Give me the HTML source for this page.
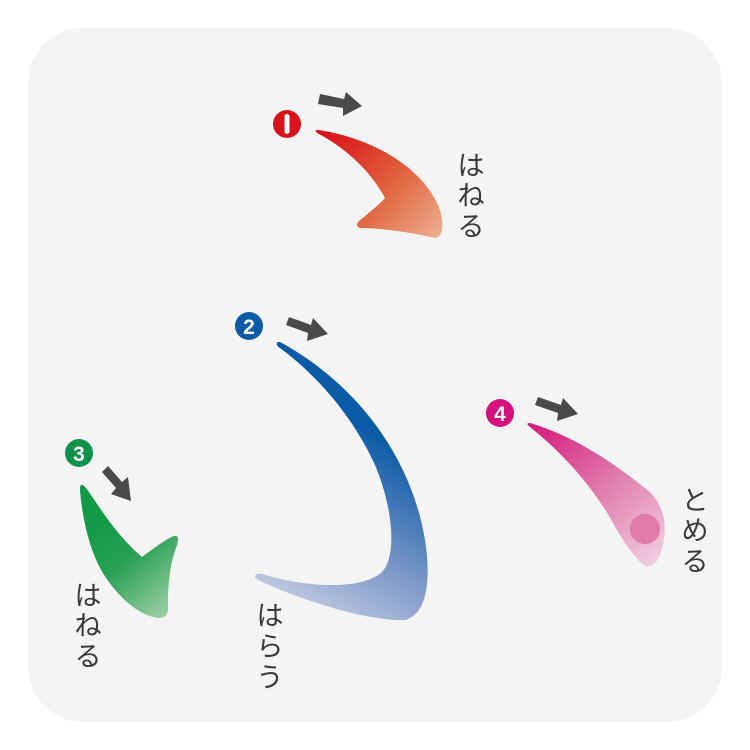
<!DOCTYPE html>
<html><head><meta charset="utf-8"><style>
html,body{margin:0;padding:0;background:#fff;width:750px;height:750px;overflow:hidden}
.t{font-family:"Liberation Sans","Noto Sans CJK JP",sans-serif;font-size:27px;fill:#3a3a3a}
.n{font-family:"Liberation Sans",sans-serif;font-weight:bold;font-size:21px;fill:#fff}
</style></head><body>
<svg width="750" height="750" viewBox="0 0 750 750" xmlns="http://www.w3.org/2000/svg">
<defs>
<linearGradient id="gr" x1="330" y1="130" x2="445" y2="240" gradientUnits="userSpaceOnUse"><stop offset="0" stop-color="#d8121b"/><stop offset="0.5" stop-color="#e0603a"/><stop offset="1" stop-color="#eeb597"/></linearGradient>
<linearGradient id="gb" x1="370" y1="430" x2="270" y2="610" gradientUnits="userSpaceOnUse"><stop offset="0" stop-color="#0a5aa6"/><stop offset="0.55" stop-color="#7e99c8"/><stop offset="1" stop-color="#cdd5e7"/></linearGradient>
<linearGradient id="gg" x1="100" y1="520" x2="175" y2="610" gradientUnits="userSpaceOnUse"><stop offset="0" stop-color="#129a48"/><stop offset="0.4" stop-color="#27a052"/><stop offset="1" stop-color="#9fcfa6"/></linearGradient>
<linearGradient id="gp" x1="540" y1="425" x2="660" y2="565" gradientUnits="userSpaceOnUse"><stop offset="0" stop-color="#d61e7d"/><stop offset="0.5" stop-color="#e07fae"/><stop offset="1" stop-color="#f2d1e2"/></linearGradient>
</defs>
<rect x="28" y="28" width="694" height="694" rx="55" fill="#f4f4f4"/>

<!-- red -->
<path d="M319,130 C370,138 420,165 438,205 C446,225 442,238 435,238 C410,232 380,228 360,228 C354,226 358,221 363,218 C372,210 380,204 385,198 C370,170 345,148 319,134 C314,131 315,130 319,130Z" fill="url(#gr)"/>
<circle cx="287" cy="124" r="14" fill="#d9121b"/><rect x="284.5" y="114" width="5" height="20" rx="2.5" fill="#fff"/>
<path d="M320,94 L344,99 L346,92 L362,106 L343,116 L343,108 L318,104Z" fill="#4b4a4a"/>

<!-- blue -->
<path d="M280,342 C350,380 410,450 425,540 C432,585 425,615 405,620 C370,622 300,600 258,580 C252,576 256,573 262,574 C300,586 360,592 382,572 C398,555 392,505 375,465 C350,410 310,370 280,348 C275,345 276,341 280,342Z" fill="url(#gb)"/>
<circle cx="249" cy="326" r="14" fill="#0c5aa6"/>
<text x="249" y="334" text-anchor="middle" class="n">2</text>
<path d="M289,317 L311,325 L313,318 L328,334 L307,341 L308,333 L286,325Z" fill="#4b4a4a"/>

<!-- green -->
<path d="M83,485 C90,490 110,530 142,557 C158,545 168,538 174,536 C180,535 178,542 176,548 C168,570 168,595 168,605 C169,616 164,618 158,618 C135,615 112,590 100,568 C88,545 82,515 80,490 C80,485 81,484 83,485Z" fill="url(#gg)"/>
<circle cx="79" cy="453" r="14" fill="#11924a"/>
<text x="79" y="461" text-anchor="middle" class="n">3</text>
<path d="M108,466 L122,482 L128,477 L131,501 L111,494 L116,488 L102,472Z" fill="#4b4a4a"/>

<!-- pink -->
<path d="M530,423 C580,438 620,468 650,492 C665,508 667,525 663,545 C660,558 655,568 646,566 C638,562 625,545 613,523 C595,490 565,455 530,427 C526,424 527,423 530,423Z" fill="url(#gp)"/>
<circle cx="645" cy="529" r="15" fill="#e07ba9"/>
<circle cx="500" cy="413" r="14" fill="#d4117c"/>
<text x="500" y="421" text-anchor="middle" class="n">4</text>
<path d="M538,397 L561,405 L563,398 L578,414 L557,421 L558,413 L535,405Z" fill="#4b4a4a"/>

<!-- labels -->
<g class="t" text-anchor="middle">
<text x="471" y="175">は</text><text x="471" y="205">ね</text><text x="471" y="236">る</text>
<text x="88" y="605">は</text><text x="88" y="635">ね</text><text x="88" y="666">る</text>
<text x="270" y="625">は</text><text x="270" y="656">ら</text><text x="270" y="687">う</text>
<text x="695" y="510">と</text><text x="695" y="540">め</text><text x="695" y="571">る</text>
</g>
</svg>
</body></html>
